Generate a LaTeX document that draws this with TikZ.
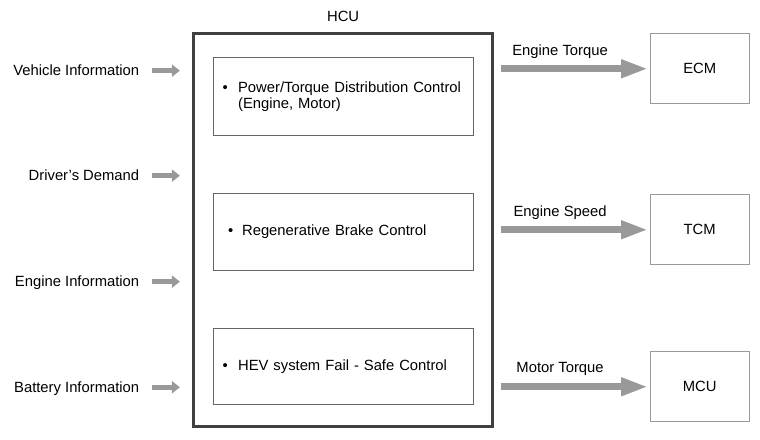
\documentclass[tikz,border=0pt]{standalone}
\usepackage{fontspec}
\setmainfont{Liberation Sans}
\usetikzlibrary{arrows.meta, positioning}
\newcommand{\bul}{\makebox[15.5pt][l]{\textbullet}}

\begin{document}
\begin{tikzpicture}[
  font=\fontsize{14.8}{16.5}\selectfont,
  node distance=10pt,
  ctrl/.style={draw=black!75, line width=3pt, minimum width=299pt, minimum height=393pt},
  func/.style={draw=black!60, line width=1pt, minimum width=260pt, text width=241pt, inner xsep=9.5pt, align=left},
  unit/.style={draw=black!40, line width=1pt, minimum width=99pt, minimum height=70pt},
  sig/.style={inner sep=0pt, text height=10.6pt, text depth=0pt},
  inarr/.style={-{Triangle[length=8pt, width=12pt]}, line width=5.5pt, black!40, shorten <=12.5pt, shorten >=12.2pt},
  outarr/.style={-{Triangle[length=27pt, width=17pt]}, line width=7pt, black!40, shorten <=7pt, shorten >=1.6pt}
]
\useasboundingbox (0,0) rectangle (760pt,-439pt);
\node[ctrl] (hcu) at (343.1pt,-230.35pt) {};
\node[sig, above=10.5pt of hcu] (hculbl) {HCU};

\node[func, minimum height=78pt, below=24.6pt of hcu.north] (pd) {\bul Power/Torque Distribution Control\\\hspace*{15.5pt}(Engine, Motor)};
\node[func, minimum height=77pt, below=57pt of pd] (rb) {\hspace*{5.5pt}\makebox[14pt][l]{\textbullet}Regenerative Brake Control};
\node[func, minimum height=76pt, below=57pt of rb] (fs) {\bul HEV system Fail - Safe Control};

\node[unit, right=155.6pt of hcu.north east, anchor=north west, yshift=-0.9pt] (ecm) {ECM};
\node[unit, below=90pt of ecm] (tcm) {TCM};
\node[unit, below=86pt of tcm] (mcu) {MCU};

\node[sig, below left=38.3pt and 52.7pt of hcu.north west, anchor=east] (vi) {Vehicle Information};
\node[sig, below=94pt of vi.south east, anchor=north east] (dd) {Driver’s Demand};
\node[sig, below=95pt of dd.south east, anchor=north east] (ei) {Engine Information};
\node[sig, below=94.6pt of ei.south east, anchor=north east] (bi) {Battery Information};

\draw[inarr] (vi) -- (vi -| hcu.west);
\draw[inarr] (dd) -- (dd -| hcu.west);
\draw[inarr] (ei) -- (ei -| hcu.west);
\draw[inarr] (bi) -- (bi -| hcu.west);

\draw[outarr] (hcu.east |- ecm) -- node[above=3pt, pos=0.424, black] (etlbl) {Engine Torque} (ecm);
\draw[outarr] (hcu.east |- tcm) -- node[above=3pt, pos=0.424, black] (eslbl) {Engine Speed} (tcm);
\draw[outarr] (hcu.east |- mcu) -- node[above=4pt, pos=0.424, black] (mtlbl) {Motor Torque} (mcu);
\end{tikzpicture}
\end{document}
